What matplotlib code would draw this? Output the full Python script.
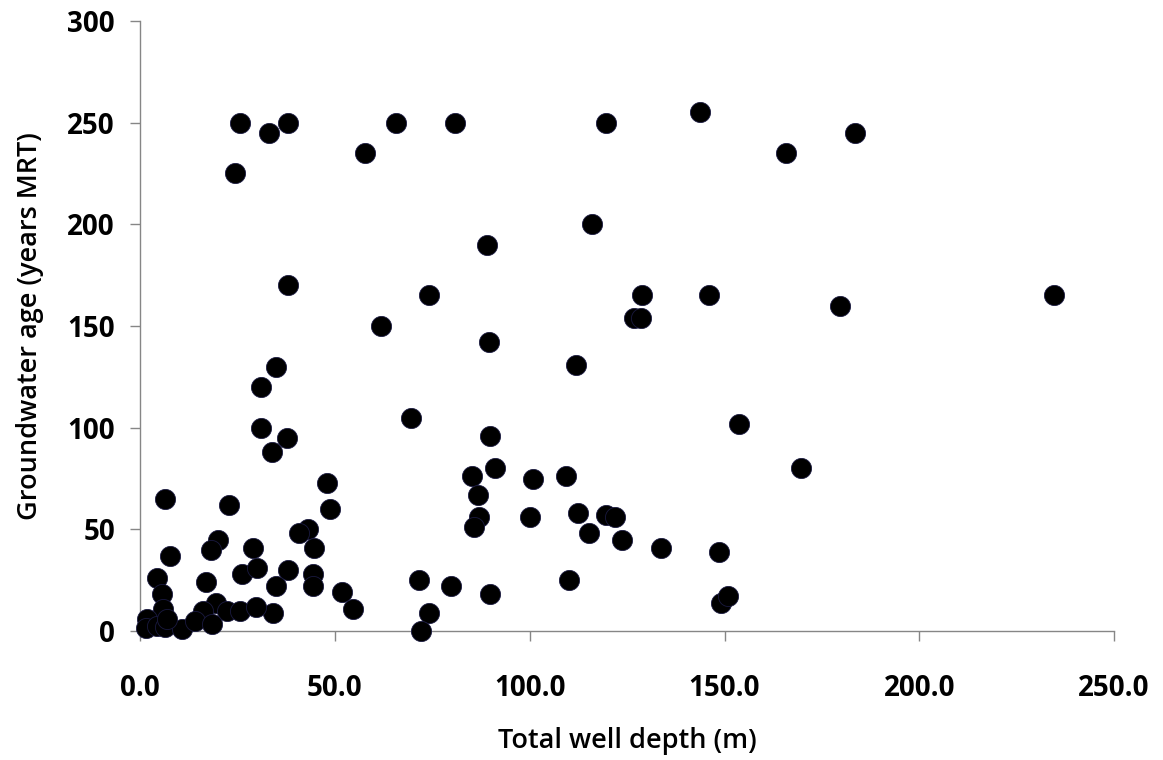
import matplotlib
matplotlib.use("Agg")
import matplotlib.pyplot as plt

# well depth (m) and groundwater age (years MRT)
depth = [25.6, 33.1, 37.9, 24.4, 57.7, 65.6, 80.8, 119.5, 143.6, 165.9, 183.6,
         115.9, 89.0, 37.9, 74.1, 61.8, 128.7, 126.9, 128.5, 146.0, 179.7, 234.6,
         34.9, 89.5, 112.0, 31.0, 31.0, 37.7, 33.8, 69.5, 153.8, 89.7,
         169.7, 91.0, 100.8, 85.1, 109.2, 86.7, 48.0, 48.7, 6.4, 22.8,
         86.9, 85.6, 100.0, 112.3, 119.5, 122.0, 115.1, 123.8, 133.6, 148.7,
         43.1, 40.8, 44.6, 20.0, 18.2, 29.0, 7.7, 4.4, 16.9, 26.2, 30.0,
         37.9, 44.4, 44.4, 34.9, 71.5, 110.0, 79.7, 51.8, 89.7, 149.0, 150.8,
         54.6, 34.1, 74.1, 72.0,
         5.6, 5.9, 19.5, 16.2, 22.3, 25.6, 29.7, 1.8, 1.5, 4.4, 6.4, 10.8,
         14.1, 18.5, 6.9]
age = [250, 245, 250, 225, 235, 250, 250, 250, 255, 235, 245,
       200, 190, 170, 165, 150, 165, 154, 154, 165, 160, 165,
       130, 142, 131, 120, 100, 95, 88, 105, 102, 96,
       80, 80, 75, 76, 76, 67, 73, 60, 65, 62,
       56, 51, 56, 58, 57, 56, 48, 45, 41, 39,
       50, 48, 41, 45, 40, 41, 37, 26, 24, 28, 31,
       30, 28, 22, 22, 25, 25, 22, 19, 18, 14, 17,
       11, 9, 9, 0,
       18, 11, 14, 10, 10, 10, 12, 6, 1.5, 2.5, 2, 1,
       5, 3.4, 6]

x_ticks = [0, 50, 100, 150, 200, 250]
y_ticks = [0, 50, 100, 150, 200, 250, 300]

plt.rcParams['font.family'] = ['Open Sans', 'DejaVu Sans']

fig = plt.figure(figsize=(11.63, 7.6), dpi=100)
ax = fig.add_axes([0.1204, 0.1697, 0.8376, 0.8027])

ax.scatter(depth, age, s=210, c="black", edgecolors="#1a1a40", linewidths=0.6, zorder=3, clip_on=False)

ax.set_xlim(0, 250)
ax.set_ylim(0, 300)
ax.set_xticks(x_ticks)
ax.set_xticklabels(["%.1f" % v for v in x_ticks])
ax.set_yticks(y_ticks)
ax.set_yticklabels([str(v) for v in y_ticks])

for side in ["top", "right"]:
    ax.spines[side].set_visible(False)
for side in ["left", "bottom"]:
    ax.spines[side].set_color("#868686")
    ax.spines[side].set_linewidth(1.0)

ax.tick_params(axis="both", direction="out", length=7, width=1.0, color="#868686",
               labelsize=20)
ax.tick_params(axis="x", pad=24)
ax.tick_params(axis="y", pad=11)
for lab in ax.get_xticklabels() + ax.get_yticklabels():
    lab.set_fontweight("bold")

ax.set_xlabel("Total well depth (m)", fontsize=19.5, fontweight="semibold")
ax.set_ylabel("Groundwater age (years MRT)", fontsize=19.5, fontweight="semibold")
ax.xaxis.set_label_coords(0.5, -0.158)
ax.yaxis.set_label_coords(-0.099, 0.5)

fig.savefig("out.png", dpi=100)
